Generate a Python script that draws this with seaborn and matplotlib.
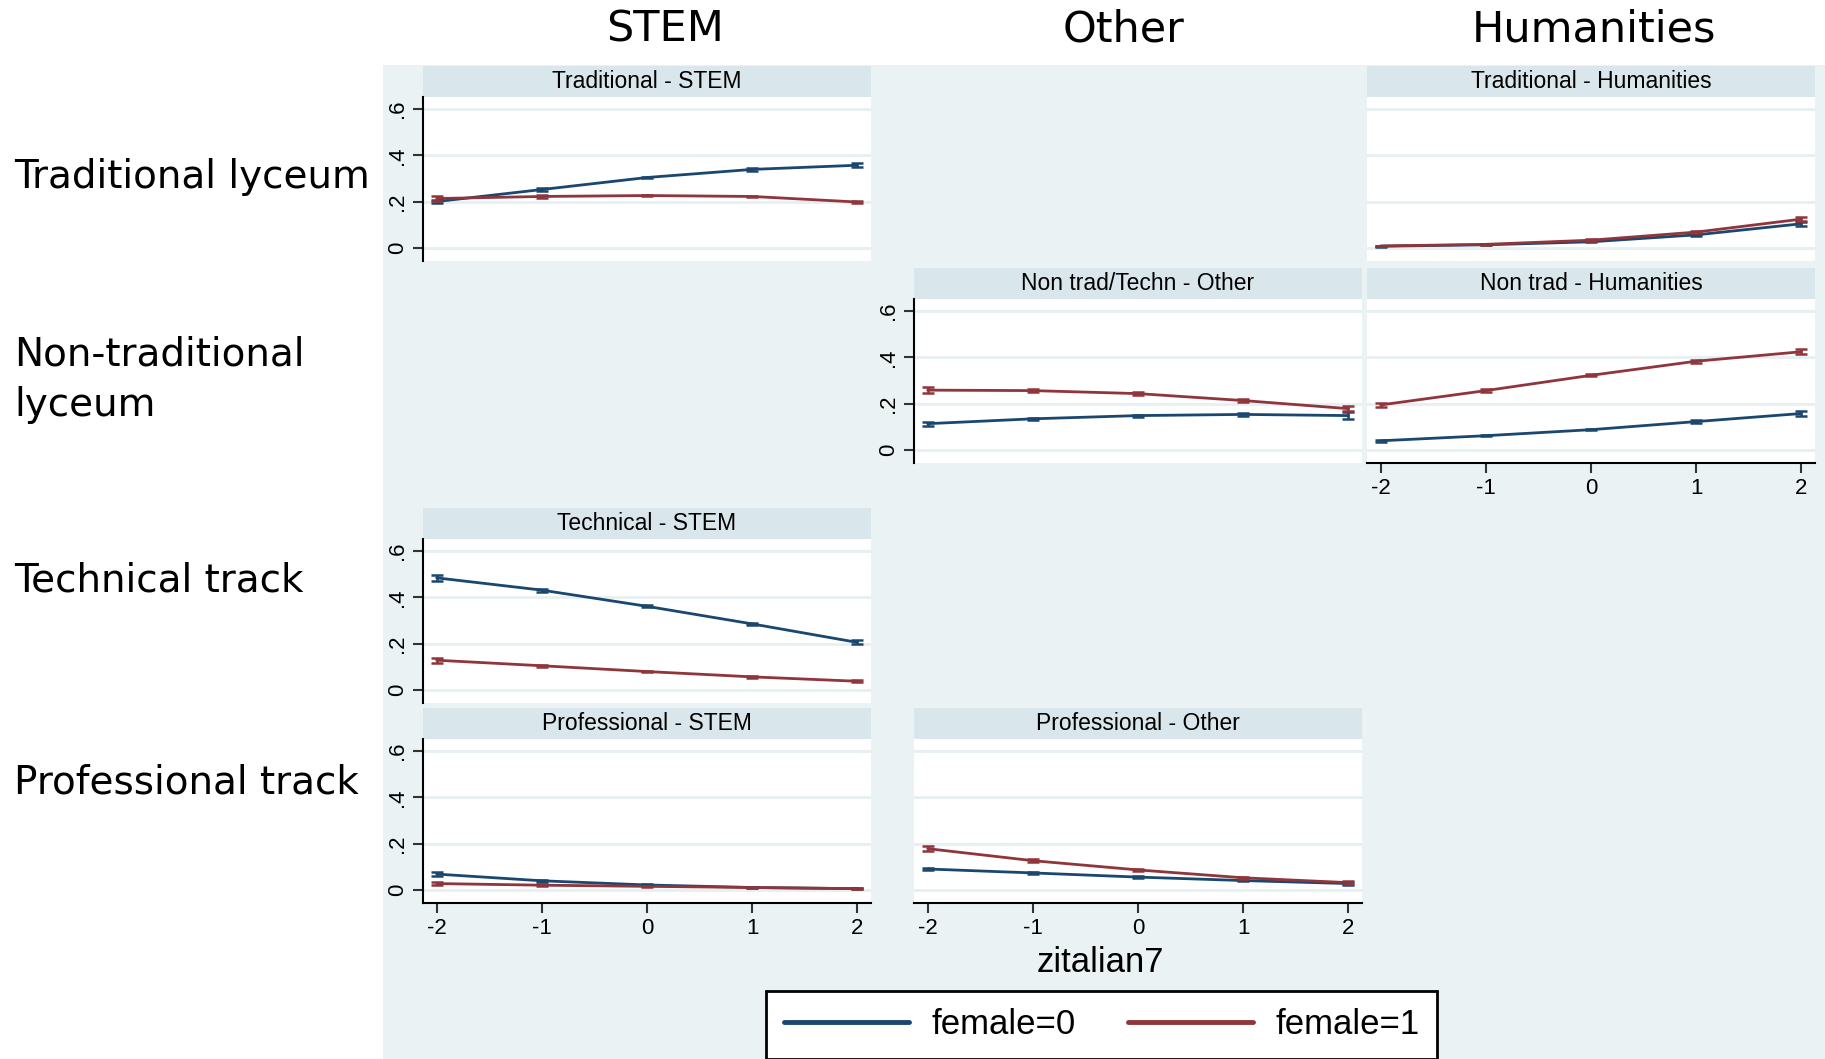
import numpy as np
import pandas as pd
import matplotlib
matplotlib.use('Agg')
import matplotlib.pyplot as plt
import seaborn as sns
from matplotlib.lines import Line2D

# x values (standardised italian score)
zit = [-2, -1, 0, 1, 2]

# predicted probabilities, female=0 / female=1, and half-width of the CI
trad_stem_m = [0.200, 0.252, 0.304, 0.339, 0.357]
trad_stem_f = [0.213, 0.222, 0.226, 0.222, 0.198]
trad_stem_m_ci = [0.008, 0.006, 0.004, 0.005, 0.009]
trad_stem_f_ci = [0.010, 0.006, 0.004, 0.004, 0.006]

trad_hum_m = [0.007, 0.013, 0.026, 0.056, 0.104]
trad_hum_f = [0.008, 0.015, 0.033, 0.068, 0.124]
trad_hum_m_ci = [0.002, 0.002, 0.003, 0.005, 0.008]
trad_hum_f_ci = [0.002, 0.002, 0.003, 0.005, 0.010]

nontr_oth_m = [0.113, 0.134, 0.148, 0.153, 0.148]
nontr_oth_f = [0.258, 0.256, 0.243, 0.213, 0.178]
nontr_oth_m_ci = [0.008, 0.005, 0.004, 0.006, 0.014]
nontr_oth_f_ci = [0.014, 0.008, 0.005, 0.006, 0.010]

nontr_hum_m = [0.039, 0.061, 0.087, 0.122, 0.157]
nontr_hum_f = [0.194, 0.256, 0.322, 0.383, 0.424]
nontr_hum_m_ci = [0.004, 0.003, 0.003, 0.006, 0.012]
nontr_hum_f_ci = [0.009, 0.006, 0.004, 0.006, 0.010]

tech_stem_m = [0.484, 0.431, 0.361, 0.285, 0.205]
tech_stem_f = [0.128, 0.104, 0.079, 0.056, 0.037]
tech_stem_m_ci = [0.012, 0.006, 0.004, 0.006, 0.009]
tech_stem_f_ci = [0.010, 0.005, 0.003, 0.003, 0.004]

prof_stem_m = [0.068, 0.039, 0.021, 0.010, 0.005]
prof_stem_f = [0.027, 0.020, 0.015, 0.010, 0.005]
prof_stem_m_ci = [0.008, 0.004, 0.003, 0.002, 0.002]
prof_stem_f_ci = [0.005, 0.003, 0.002, 0.002, 0.002]

prof_oth_m = [0.090, 0.073, 0.055, 0.040, 0.027]
prof_oth_f = [0.178, 0.126, 0.086, 0.052, 0.031]
prof_oth_m_ci = [0.006, 0.004, 0.003, 0.004, 0.005]
prof_oth_f_ci = [0.010, 0.006, 0.004, 0.004, 0.005]

col_titles = ['STEM', 'Other', 'Humanities']
row_titles = ['Traditional lyceum', 'Non-traditional\nlyceum', 'Technical track', 'Professional track']

# panel name, grid cell, data
panels = [
    ('Traditional - STEM', 0, 0, trad_stem_m, trad_stem_f, trad_stem_m_ci, trad_stem_f_ci),
    ('Traditional - Humanities', 0, 2, trad_hum_m, trad_hum_f, trad_hum_m_ci, trad_hum_f_ci),
    ('Non trad/Techn - Other', 1, 1, nontr_oth_m, nontr_oth_f, nontr_oth_m_ci, nontr_oth_f_ci),
    ('Non trad - Humanities', 1, 2, nontr_hum_m, nontr_hum_f, nontr_hum_m_ci, nontr_hum_f_ci),
    ('Technical - STEM', 2, 0, tech_stem_m, tech_stem_f, tech_stem_m_ci, tech_stem_f_ci),
    ('Professional - STEM', 3, 0, prof_stem_m, prof_stem_f, prof_stem_m_ci, prof_stem_f_ci),
    ('Professional - Other', 3, 1, prof_oth_m, prof_oth_f, prof_oth_m_ci, prof_oth_f_ci),
]
show_y = {(0, 0), (1, 1), (2, 0), (3, 0)}
show_x = {(1, 2), (3, 0), (3, 1)}

sns.set_theme(style='white')
plt.rcParams['font.family'] = ['Liberation Sans', 'DejaVu Sans']
plt.rcParams['text.color'] = 'black'
plt.rcParams['xtick.color'] = 'black'
plt.rcParams['ytick.color'] = 'black'

navy = '#1a476f'
maroon = '#90353b'
bg = '#eaf2f3'
strip_c = '#d9e6eb'
grid_c = '#e6eff1'
pal = {0: navy, 1: maroon}

W, H = 1825, 1059
fig = plt.figure(figsize=(W / 100, H / 100), dpi=100)
fig.patch.set_facecolor('white')
# grey graph region behind all panels
bgax = fig.add_axes([383 / W, 0, 1 - 383 / W, 1 - 65 / H], zorder=-5)
bgax.set_facecolor(bg)
bgax.set_xticks([])
bgax.set_yticks([])
for s in bgax.spines.values():
    s.set_visible(False)

col_left = [423, 914, 1367]
strip_top = [66, 268, 508, 708]
pw, sh, ph = 448, 31, 164

for name, r, c, ym, yf, cim, cif in panels:
    x0 = col_left[c]
    t0 = strip_top[r]
    sax = fig.add_axes([x0 / W, 1 - (t0 + sh) / H, pw / W, sh / H])
    sax.set_facecolor(strip_c)
    sax.set_xticks([])
    sax.set_yticks([])
    for s in sax.spines.values():
        s.set_visible(False)
    sax.text(0.5, 0.5, name, ha='center', va='center', fontsize=16.5,
             transform=sax.transAxes)

    ax = fig.add_axes([x0 / W, 1 - (t0 + sh + ph) / H, pw / W, ph / H])
    ax.set_facecolor('white')
    df = pd.DataFrame({'zitalian7': zit * 2,
                       'p': ym + yf,
                       'ci': cim + cif,
                       'female': [0] * 5 + [1] * 5})
    for y in [0, 0.2, 0.4, 0.6]:
        ax.axhline(y, color=grid_c, lw=2, zorder=0.5)
    sns.lineplot(data=df, x='zitalian7', y='p', hue='female', palette=pal,
                 ax=ax, legend=False, linewidth=2, errorbar=None, zorder=3)
    for f in [0, 1]:
        d = df[df.female == f]
        ax.errorbar(d.zitalian7, d.p, yerr=d.ci, fmt='none', ecolor=pal[f],
                    elinewidth=1.8, capsize=4, capthick=1.8, zorder=3)
    ax.set_xlim(-2.13, 2.13)
    ax.set_ylim(-0.057, 0.652)
    ax.set_xlabel('')
    ax.set_ylabel('')
    for s in ['top', 'right']:
        ax.spines[s].set_visible(False)
    if (r, c) in show_y:
        ax.spines['left'].set_color('black')
        ax.spines['left'].set_linewidth(1.5)
        ax.set_yticks([0, 0.2, 0.4, 0.6])
        ax.set_yticklabels(['0', '.2', '.4', '.6'], rotation=90, va='center',
                           fontsize=16)
        ax.tick_params(axis='y', left=True, length=7, width=1.5, pad=4,
                       color='#333333')
    else:
        ax.spines['left'].set_visible(False)
        ax.set_yticks([])
    if (r, c) in show_x:
        ax.spines['bottom'].set_color('black')
        ax.spines['bottom'].set_linewidth(1.5)
        ax.set_xticks(zit)
        ax.set_xticklabels(['-2', '-1', '0', '1', '2'], fontsize=16)
        ax.tick_params(axis='x', bottom=True, length=7, width=1.5, pad=4,
                       color='#333333')
    else:
        ax.spines['bottom'].set_visible(False)
        ax.set_xticks([])

# column and row headers
col_x = [665, 1124, 1594]
for t, x in zip(col_titles, col_x):
    fig.text(x / W, 1 - 29 / H, t, ha='center', va='center', fontsize=31,
             family=['DejaVu Sans'])
row_y = [177, 380, 580, 782]
for t, y in zip(row_titles, row_y):
    fig.text(14 / W, 1 - y / H, t, ha='left', va='center', fontsize=28,
             family=['DejaVu Sans'], linespacing=1.4)

fig.text(1100 / W, 1 - 962 / H, 'zitalian7', ha='center', va='center',
         fontsize=25)

handles = [Line2D([], [], color=navy, lw=3.5), Line2D([], [], color=maroon, lw=3.5)]
leg = fig.legend(handles, ['female=0', 'female=1'], loc='center',
                 bbox_to_anchor=(1101.5 / W, 1 - 1025 / H), ncol=2,
                 fontsize=25, frameon=True, fancybox=False, edgecolor='black',
                 framealpha=1, handlelength=3.6, handletextpad=0.65,
                 columnspacing=1.5, borderpad=0.5, borderaxespad=0)
leg.get_frame().set_linewidth(2)
leg.get_frame().set_facecolor('white')

fig.savefig('out.png', dpi=100, facecolor='white')
